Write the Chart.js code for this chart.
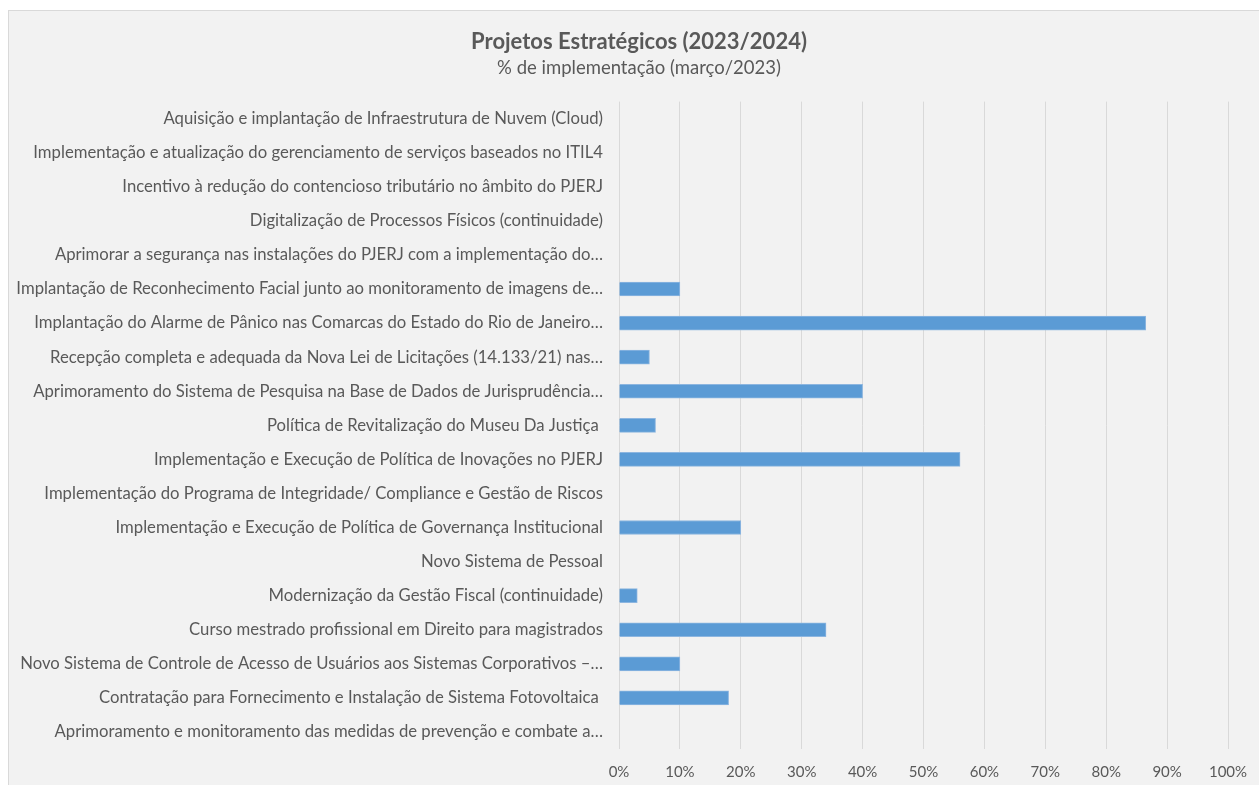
<!DOCTYPE html>
<html>
<head>
<meta charset="utf-8">
<script src="https://cdn.jsdelivr.net/npm/chart.js@4"></script>
<style>
    html, body { margin: 0; padding: 0; background: #ffffff; overflow: hidden; }
    #box {
        position: absolute; left: 8px; top: 10px;
        width: 1260px; height: 790px;
        border: 1px solid #d9d9d9; background: #f2f2f2;
    }
    #wrap { position: absolute; left: 0; top: 0; width: 1260px; height: 774px; }
</style>
</head>
<body>
<div id="box"><div id="wrap"><canvas id="chart"></canvas></div></div>
<script>
// Projetos (de cima para baixo, como no gráfico)
const projetos = [
    'Aquisição e implantação de Infraestrutura de Nuvem (Cloud)',
    'Implementação e atualização do gerenciamento de serviços baseados no ITIL4',
    'Incentivo à redução do contencioso tributário no âmbito do PJERJ',
    'Digitalização de Processos Físicos (continuidade)',
    'Aprimorar a segurança nas instalações do PJERJ com a implementação do…',
    'Implantação de Reconhecimento Facial junto ao monitoramento de imagens de…',
    'Implantação do Alarme de Pânico nas Comarcas do Estado do Rio de Janeiro…',
    'Recepção completa e adequada da Nova Lei de Licitações (14.133/21) nas…',
    'Aprimoramento do Sistema de Pesquisa na Base de Dados de Jurisprudência…',
    'Política de Revitalização do Museu Da Justiça ',
    'Implementação e Execução de Política de Inovações no PJERJ',
    'Implementação do Programa de Integridade/ Compliance e Gestão de Riscos',
    'Implementação e Execução de Política de Governança Institucional',
    'Novo Sistema de Pessoal',
    'Modernização da Gestão Fiscal (continuidade)',
    'Curso mestrado profissional em Direito para magistrados',
    'Novo Sistema de Controle de Acesso de Usuários aos Sistemas Corporativos –…',
    'Contratação para Fornecimento e Instalação de Sistema Fotovoltaica ',
    'Aprimoramento e monitoramento das medidas de prevenção e combate a…'
];

// % de implementação
const implementacao = [0, 0, 0, 0, 0, 10, 86.5, 5, 40, 6, 56, 0, 20, 0, 3, 34, 10, 18, 0];

const titulo = 'Projetos Estratégicos (2023/2024)';
const subtitulo = '% de implementação (março/2023)';

const cinza = '#595959';
const fonte = 'Lato, "Noto Sans", sans-serif';

new Chart(document.getElementById('chart'), {
    type: 'bar',
    data: {
        labels: projetos,
        datasets: [{
            label: '% de implementação',
            data: implementacao,
            backgroundColor: '#5b9bd5',
            borderColor: '#8db6e0',
            borderWidth: 1,
            barThickness: 14
        }]
    },
    options: {
        indexAxis: 'y',
        responsive: true,
        maintainAspectRatio: false,
        animation: false,
        layout: { padding: { left: 0, right: 0, top: 0, bottom: -10 } },
        plugins: {
            legend: { display: false },
            tooltip: { enabled: false },
            title: {
                display: true,
                text: titulo,
                color: cinza,
                font: { family: fonte, size: 22, weight: 'bold' },
                padding: { top: 18, bottom: 2 }
            },
            subtitle: {
                display: true,
                text: subtitulo,
                color: cinza,
                font: { family: fonte, size: 18.5 },
                padding: { top: 0, bottom: 22 }
            }
        },
        scales: {
            x: {
                min: 0,
                max: 100,
                afterFit: scale => { scale.paddingRight = 41; },
                ticks: {
                    stepSize: 10,
                    color: cinza,
                    font: { family: fonte, size: 15 },
                    padding: 14,
                    callback: v => v + '%'
                },
                grid: { color: '#d9d9d9', drawTicks: false },
                border: { display: false }
            },
            y: {
                afterFit: scale => { scale.width = 610; },
                ticks: {
                    autoSkip: false,
                    color: cinza,
                    font: { family: fonte, size: 16.7 },
                    padding: 16
                },
                grid: { display: false, drawTicks: false },
                border: { display: false }
            }
        }
    }
});
</script>
</body>
</html>
